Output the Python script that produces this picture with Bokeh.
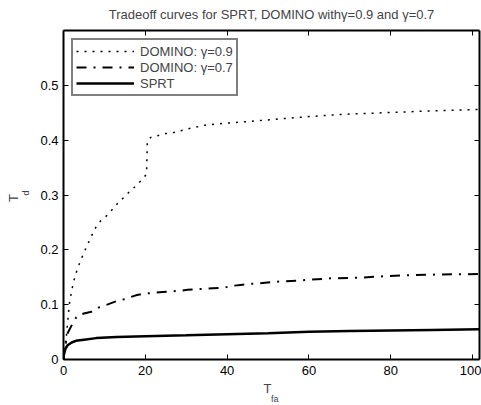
from bokeh.plotting import figure
from bokeh.models import Range1d, LinearAxis, FixedTicker, Legend, LegendItem, Title
from bokeh.embed import file_html
from bokeh.resources import INLINE

# ---- data ----
x_g09 = [0, 0.3, 0.6, 0.8, 1.0, 1.2, 1.5, 2.0, 2.4, 3.0, 3.7, 4.5, 5.3, 6.1, 6.9, 7.9,
         9.1, 10.5, 12.0, 13.4, 14.8, 16.4, 17.8, 19.3, 20.3, 20.5, 21.3, 23, 25, 27,
         30, 35, 40, 45, 50, 55, 60, 68, 75, 85, 92, 101.7]
y_g09 = [0, 0.012, 0.028, 0.052, 0.067, 0.083, 0.105, 0.125, 0.14, 0.156, 0.171, 0.186,
         0.2, 0.213, 0.226, 0.241, 0.253, 0.262, 0.274, 0.286, 0.296, 0.308, 0.317,
         0.329, 0.338, 0.399, 0.405, 0.408, 0.412, 0.414, 0.42, 0.428, 0.431, 0.434,
         0.437, 0.44, 0.443, 0.447, 0.449, 0.452, 0.454, 0.456]

x_g07 = [0, 0.5, 1.0, 2.6, 3.4, 5.0, 6.8, 8.7, 11, 13.2, 14.8, 17.7, 19.5, 21.3, 24.2,
         27.9, 30.3, 32.3, 36.5, 39.3, 40.9, 43.3, 45.8, 47.8, 52.3, 57.5, 65.3, 71.8,
         78.7, 85.3, 91.8, 98.3, 101.7]
y_g07 = [0, 0.03, 0.048, 0.071, 0.08, 0.084, 0.087, 0.095, 0.101, 0.107, 0.11, 0.117,
         0.12, 0.121, 0.123, 0.125, 0.127, 0.128, 0.13, 0.131, 0.134, 0.136, 0.138,
         0.139, 0.142, 0.144, 0.148, 0.149, 0.152, 0.154, 0.155, 0.1555, 0.156]

x_sprt = [0, 0.1, 0.5, 1, 2, 3, 5, 8, 13, 20, 30, 40, 50, 60, 70, 80, 90, 101.7]
y_sprt = [0, 0.01, 0.02, 0.026, 0.031, 0.034, 0.036, 0.039, 0.041, 0.0425, 0.044,
          0.046, 0.048, 0.0505, 0.052, 0.053, 0.054, 0.055]

series_labels = ["DOMINO: \u03b3=0.9", "DOMINO: \u03b3=0.7", "SPRT"]
title_text = "Tradeoff curves for SPRT, DOMINO with\u03b3=0.9 and \u03b3=0.7"
x_label_main, x_label_sub = "T", "fa"
y_label_main, y_label_sub = "T", "d"

x_ticks = [0, 20, 40, 60, 80, 100]
x_tick_labels = ["0", "20", "40", "60", "80", "100"]
y_ticks = [0, 0.1, 0.2, 0.3, 0.4, 0.5]
y_tick_labels = ["0", "0.1", "0.2", "0.3", "0.4", "0.5"]

FONT = "Liberation Sans"
FS = "13px"

p = figure(width=481, height=405, x_range=Range1d(0, 101.7), y_range=Range1d(0, 0.6),
           output_backend="svg", toolbar_location=None,
           min_border_left=63, min_border_right=2, min_border_top=30, min_border_bottom=46)
p.xgrid.visible = False
p.ygrid.visible = False
p.outline_line_color = None
p.background_fill_color = "white"
p.border_fill_color = "white"

p.title.text = title_text
p.title.align = "center"
p.title.vertical_align = "top"
p.title.text_font = FONT
p.title.text_font_size = FS
p.title.text_font_style = "normal"
p.title.standoff = 13


def style_axis(ax, ticks, labels, show_labels, standoff):
    ax.ticker = FixedTicker(ticks=ticks)
    if show_labels:
        ax.major_label_overrides = {t: l for t, l in zip(ticks, labels)}
        ax.major_label_text_font_size = FS
    else:
        ax.major_label_overrides = {t: "" for t in ticks}
        ax.major_label_text_font_size = "1px"
    ax.major_tick_in = 5
    ax.major_tick_out = 0
    ax.minor_tick_in = 0
    ax.minor_tick_out = 0
    ax.axis_line_width = 2
    ax.axis_line_color = "black"
    ax.major_tick_line_width = 1
    ax.major_tick_line_color = "black"
    ax.major_label_text_font = FONT
    ax.major_label_text_color = "black"
    ax.major_label_standoff = standoff


style_axis(p.xaxis[0], x_ticks, x_tick_labels, True, 6)
style_axis(p.yaxis[0], y_ticks, y_tick_labels, True, 5)
top_ax = LinearAxis()
right_ax = LinearAxis()
style_axis(top_ax, x_ticks, x_tick_labels, False, 0)
style_axis(right_ax, y_ticks, y_tick_labels, False, 0)
p.add_layout(top_ax, "above")
p.add_layout(right_ax, "right")

# axis labels with subscripts, as stacked title panels
p.add_layout(Title(text=x_label_main, align="left", offset=200, vertical_align="middle",
                   text_font=FONT, text_font_size=FS, text_font_style="normal",
                   standoff=3.5), "below")
p.add_layout(Title(text=x_label_sub, align="left", offset=207.5, vertical_align="middle",
                   text_font=FONT, text_font_size="9px", text_font_style="normal",
                   standoff=-10.6), "below")
p.add_layout(Title(text=y_label_sub, align="left", offset=164, vertical_align="top",
                   text_font=FONT, text_font_size="9px", text_font_style="normal",
                   standoff=10.4), "left")
p.add_layout(Title(text=y_label_main, align="left", offset=157.5, vertical_align="bottom",
                   text_font=FONT, text_font_size=FS, text_font_style="normal",
                   standoff=-10.6), "left")

r09 = p.line(x_g09, y_g09, line_color="black", line_width=1.5, line_dash="2 6")
r07 = p.line(x_g07, y_g07, line_color="black", line_width=2, line_dash="10 7 2 7")
rs = p.line(x_sprt, y_sprt, line_color="black", line_width=2.5)

legend = Legend(items=[LegendItem(label=series_labels[0], renderers=[r09]),
                       LegendItem(label=series_labels[1], renderers=[r07]),
                       LegendItem(label=series_labels[2], renderers=[rs])],
                location="top_left", margin=8, padding=3, spacing=0,
                glyph_width=58, glyph_height=16, label_height=16, label_standoff=6,
                label_text_font=FONT, label_text_font_size=FS,
                border_line_color="black", border_line_width=2,
                background_fill_color="white", background_fill_alpha=1.0)
p.add_layout(legend)

open("out.html", "w").write(file_html(p, INLINE))
